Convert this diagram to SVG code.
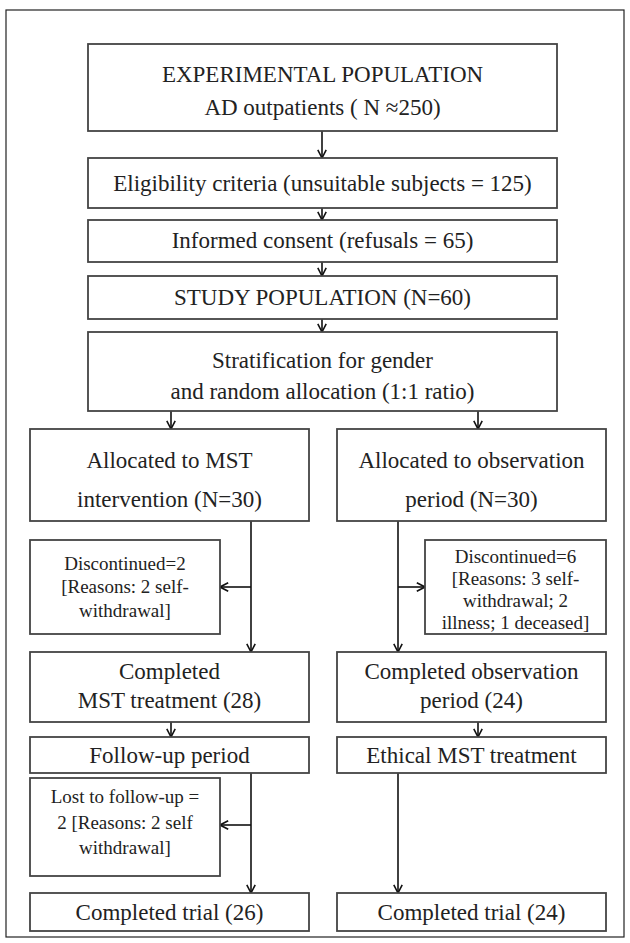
<svg xmlns="http://www.w3.org/2000/svg" width="630" height="943" viewBox="0 0 630 943">
<defs>
<marker id="ah" viewBox="0 0 10 10" refX="9.2" refY="5" markerWidth="10" markerHeight="10" markerUnits="userSpaceOnUse" orient="auto">
<path d="M1,0.8 L9.2,5 L1,9.2" fill="none" stroke="#111" stroke-width="1.6"/>
</marker>
</defs>
<style>
.box{fill:#fff;stroke:#444;stroke-width:1.8}
.t{font-family:"Liberation Serif","Times New Roman",serif;font-size:23px;fill:#222;text-anchor:middle}
.s{font-family:"Liberation Serif","Times New Roman",serif;font-size:19px;fill:#222;text-anchor:middle}
.c{fill:none;stroke:#111;stroke-width:1.6}
.a{marker-end:url(#ah)}
</style>
<rect x="6" y="10" width="618" height="927" fill="#fff" stroke="#222" stroke-width="1.2"/>
<g id="connectors">
<line class="c a" x1="322" y1="131" x2="322" y2="158"/>
<line class="c a" x1="322" y1="208" x2="322" y2="220"/>
<line class="c a" x1="322" y1="262" x2="322" y2="276"/>
<line class="c a" x1="322" y1="319" x2="322" y2="332"/>
<line class="c a" x1="171" y1="411" x2="171" y2="429"/>
<line class="c a" x1="478" y1="411" x2="478" y2="429"/>
<line class="c a" x1="251" y1="521" x2="251" y2="652"/>
<line class="c a" x1="251" y1="587" x2="220" y2="587"/>
<line class="c a" x1="398" y1="521" x2="398" y2="652"/>
<line class="c a" x1="398" y1="587" x2="425" y2="587"/>
<line class="c a" x1="171" y1="722" x2="171" y2="737"/>
<line class="c a" x1="478" y1="722" x2="478" y2="737"/>
<line class="c a" x1="251" y1="773" x2="251" y2="893"/>
<line class="c a" x1="251" y1="825" x2="220" y2="825"/>
<line class="c a" x1="398" y1="773" x2="398" y2="893"/>
</g>
<g id="experimental">
<rect class="box" x="88" y="44" width="469" height="87"/>
<text class="t" x="322.5" y="82">EXPERIMENTAL POPULATION</text>
<text class="t" x="322.5" y="115">AD outpatients ( N ≈250)</text>
</g>
<g id="eligibility">
<rect class="box" x="88" y="158" width="469" height="50"/>
<text class="t" x="322.5" y="191">Eligibility criteria (unsuitable subjects = 125)</text>
</g>
<g id="consent">
<rect class="box" x="88" y="220" width="469" height="42"/>
<text class="t" x="322.5" y="248">Informed consent (refusals = 65)</text>
</g>
<g id="study">
<rect class="box" x="88" y="276" width="469" height="43"/>
<text class="t" x="322.5" y="305">STUDY POPULATION (N=60)</text>
</g>
<g id="stratification">
<rect class="box" x="88" y="332" width="469" height="79"/>
<text class="t" x="322.5" y="368">Stratification for gender</text>
<text class="t" x="322.5" y="399">and random allocation (1:1 ratio)</text>
</g>
<g id="alloc-mst">
<rect class="box" x="30" y="429" width="279" height="92"/>
<text class="t" x="169.5" y="468">Allocated to MST</text>
<text class="t" x="169.5" y="507">intervention (N=30)</text>
</g>
<g id="alloc-obs">
<rect class="box" x="337" y="429" width="269" height="92"/>
<text class="t" x="471.5" y="468">Allocated to observation</text>
<text class="t" x="471.5" y="507">period (N=30)</text>
</g>
<g id="disc-mst">
<rect class="box" x="30" y="540" width="190" height="94"/>
<text class="s" x="125" y="570">Discontinued=2</text>
<text class="s" x="125" y="593">[Reasons: 2 self-</text>
<text class="s" x="125" y="617">withdrawal]</text>
</g>
<g id="disc-obs">
<rect class="box" x="425" y="540" width="181" height="94"/>
<text class="s" x="515.5" y="563">Discontinued=6</text>
<text class="s" x="515.5" y="585">[Reasons: 3 self-</text>
<text class="s" x="515.5" y="607">withdrawal; 2</text>
<text class="s" x="515.5" y="629">illness; 1 deceased]</text>
</g>
<g id="completed-mst">
<rect class="box" x="30" y="652" width="279" height="70"/>
<text class="t" x="169.5" y="679">Completed</text>
<text class="t" x="169.5" y="708">MST treatment (28)</text>
</g>
<g id="completed-obs">
<rect class="box" x="337" y="652" width="269" height="70"/>
<text class="t" x="471.5" y="679">Completed observation</text>
<text class="t" x="471.5" y="708">period (24)</text>
</g>
<g id="followup">
<rect class="box" x="30" y="737" width="279" height="36"/>
<text class="t" x="169.5" y="763">Follow-up period</text>
</g>
<g id="ethical">
<rect class="box" x="337" y="737" width="269" height="36"/>
<text class="t" x="471.5" y="763">Ethical MST treatment</text>
</g>
<g id="lost">
<rect class="box" x="30" y="778" width="190" height="98"/>
<text class="s" x="125" y="803">Lost to follow-up =</text>
<text class="s" x="125" y="829">2 [Reasons: 2 self</text>
<text class="s" x="125" y="854">withdrawal]</text>
</g>
<g id="trial-mst">
<rect class="box" x="30" y="893" width="279" height="38"/>
<text class="t" x="169.5" y="920">Completed trial (26)</text>
</g>
<g id="trial-obs">
<rect class="box" x="337" y="893" width="269" height="38"/>
<text class="t" x="471.5" y="920">Completed trial (24)</text>
</g>
</svg>
